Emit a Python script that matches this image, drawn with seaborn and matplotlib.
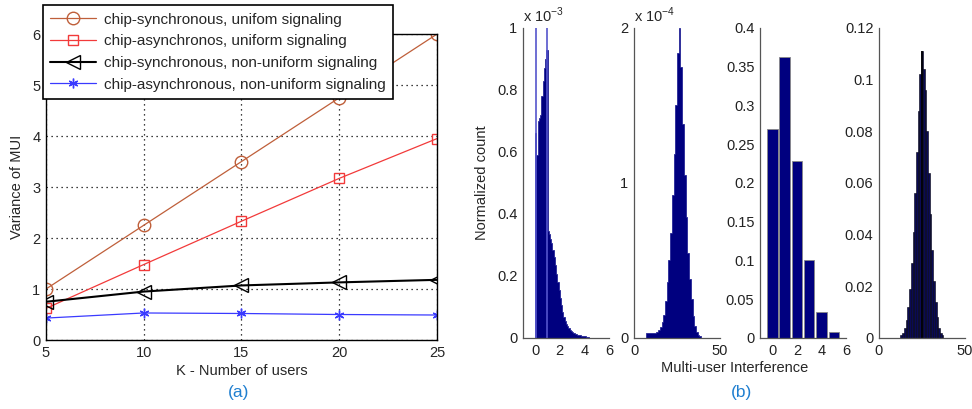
import numpy as np
import pandas as pd
import seaborn as sns
import matplotlib.pyplot as plt

# (a) variance of MUI vs number of users
users = [5, 10, 15, 20, 25]
sync_uniform = [1.0, 2.25, 3.5, 4.75, 6.0]
async_uniform = [0.62, 1.48, 2.33, 3.17, 3.95]
sync_nonuniform = [0.75, 0.95, 1.07, 1.13, 1.18]
async_nonuniform = [0.43, 0.53, 0.52, 0.50, 0.49]
series_labels = ['chip-synchronous, unifom signaling',
                 'chip-asynchronos, uniform signaling',
                 'chip-synchronous, non-uniform signaling',
                 'chip-asynchronous, non-uniform signaling']

# (b) histograms of multi-user interference
# panel 1 (x 1e-3), bins of width 0.1 starting at 0
h1_left = [round(0.1 * i, 1) for i in range(45)]
h1_heights = [0.66, 0.59, 0.70, 0.71, 0.72, 0.78, 0.83, 0.87, 0.90, 0.93,
              0.345, 0.335, 0.32, 0.305, 0.285, 0.26, 0.235, 0.205, 0.18, 0.155,
              0.128, 0.105, 0.085, 0.068, 0.056, 0.046, 0.038, 0.031, 0.026, 0.022,
              0.019, 0.016, 0.014, 0.012, 0.011, 0.010, 0.009, 0.008, 0.007, 0.006,
              0.005, 0.004, 0.003, 0.002, 0.001]
h1_spikes = [0.03, 0.95]
h1_spike_heights = [1.0, 1.0]
# panel 2 (x 1e-4), bins of width 1 starting at 7
h2_left = list(range(7, 39))
h2_heights = [0.03, 0.03, 0.03, 0.03, 0.03, 0.03, 0.04, 0.05, 0.07, 0.10,
              0.15, 0.24, 0.36, 0.50, 0.68, 0.92, 1.19, 1.50, 1.84, 2.0,
              1.75, 1.38, 1.05, 0.78, 0.55, 0.38, 0.25, 0.14, 0.08, 0.04,
              0.02, 0.01]
# panel 3, discrete values
h3_values = [0, 1, 2, 3, 4, 5]
h3_heights = [0.27, 0.362, 0.228, 0.101, 0.033, 0.008]
# panel 4, bins of width 1 centred on integers
h4_values = list(range(13, 38))
h4_heights = [0.001, 0.002, 0.004, 0.007, 0.012, 0.019, 0.029, 0.041, 0.056, 0.072,
              0.088, 0.102, 0.111, 0.104, 0.096, 0.080, 0.064, 0.048, 0.034, 0.022,
              0.014, 0.008, 0.004, 0.002, 0.001]

sns.set_theme(style='white')
plt.rcParams['font.family'] = ['Liberation Sans', 'DejaVu Sans']
plt.rcParams['font.size'] = 10
plt.rcParams['mathtext.fontset'] = 'custom'
plt.rcParams['mathtext.rm'] = 'Liberation Sans'
plt.rcParams['xtick.direction'] = 'in'
plt.rcParams['ytick.direction'] = 'in'

fig = plt.figure(figsize=(9.72, 4.09), dpi=100)
navy = '#00007f'

# ---- (a)
ax = fig.add_axes([0.0473, 0.1687, 0.4023, 0.748])
styles = [
    (sync_uniform, '#bf5f3a', 'o', 9, 0.9),
    (async_uniform, '#f23a3a', 's', 6.5, 0.9),
    (sync_nonuniform, 'black', '<', 9.5, 1.5),
    (async_nonuniform, '#3a3aff', (6, 2, 0), 7, 0.9),
]
for (vals, col, mk, ms, lw), lab in zip(styles, series_labels):
    sns.lineplot(x=users, y=vals, ax=ax, color=col, marker=mk, markersize=ms,
                 markerfacecolor='none', markeredgecolor=col, markeredgewidth=1.0,
                 linewidth=lw, label=lab)
ax.set_xlim(5, 25)
ax.set_ylim(0, 6)
ax.set_xticks([5, 10, 15, 20, 25])
ax.set_yticks(range(7))
ax.grid(True, linestyle=(0, (1, 3)), color='black', linewidth=0.9)
for s in ax.spines.values():
    s.set_color('black')
    s.set_linewidth(1.0)
ax.tick_params(length=4, width=0.8, labelsize=10.5, pad=4)
ax.set_xlabel('K - Number of users', fontsize=10.5, labelpad=3)
ax.set_ylabel('Variance of MUI', fontsize=10.5, labelpad=6)
leg = ax.legend(loc='upper left', bbox_to_anchor=(-0.008, 1.095), borderaxespad=0,
                fontsize=11, handlelength=3.0, fancybox=False, framealpha=1,
                edgecolor='black', borderpad=0.5, labelspacing=0.5, handletextpad=0.5)
leg.get_frame().set_linewidth(1.2)

# ---- (b)
def style_hist(a):
    for k in ['top', 'right']:
        a.spines[k].set_visible(False)
    for k in ['left', 'bottom']:
        a.spines[k].set_color('#555555')
        a.spines[k].set_linewidth(0.9)
    a.tick_params(length=3, width=0.8, labelsize=10.5, pad=4, colors='#222222')
    a.set_xlabel('')
    a.set_ylabel('')

ax1 = fig.add_axes([0.538, 0.1736, 0.0885, 0.758])
sns.histplot(x=[v + 0.05 for v in h1_left], weights=h1_heights,
             bins=[round(0.1 * i, 1) for i in range(46)], ax=ax1,
             color=navy, alpha=1, element='step', fill=True,
             edgecolor='#14148f', linewidth=0.5)
ax1.vlines(h1_spikes, 0, h1_spike_heights, color='#5555cc', linewidth=1.2)
ax1.set_xlim(-1, 6)
ax1.set_ylim(0, 1)
ax1.set_xticks([0, 2, 4, 6])
ax1.set_yticks([0, 0.2, 0.4, 0.6, 0.8, 1])
ax1.set_yticklabels(['0', '0.2', '0.4', '0.6', '0.8', '1'])
style_hist(ax1)
ax1.set_ylabel('Normalized count', fontsize=10.5, labelpad=6)
ax1.text(0, 1.01, r'x 10$^{-3}$', transform=ax1.transAxes, fontsize=10.5,
         ha='left', va='bottom')

ax2 = fig.add_axes([0.6523, 0.1736, 0.0885, 0.758])
sns.histplot(x=[v + 0.5 for v in h2_left], weights=h2_heights,
             bins=list(range(7, 40)), ax=ax2,
             color=navy, alpha=1, element='step', fill=True,
             edgecolor='#14148f', linewidth=0.5)
ax2.set_xlim(0, 50)
ax2.set_ylim(0, 2)
ax2.set_xticks([0, 50])
ax2.set_yticks([0, 1, 2])
style_hist(ax2)
ax2.text(0, 1.01, r'x 10$^{-4}$', transform=ax2.transAxes, fontsize=10.5,
         ha='left', va='bottom')

ax3 = fig.add_axes([0.7819, 0.1736, 0.0885, 0.758])
sns.histplot(x=h3_values, weights=h3_heights, discrete=True, shrink=0.85, ax=ax3,
             color=navy, alpha=1, edgecolor='#888888', linewidth=0.6)
ax3.set_xlim(-1, 6)
ax3.set_ylim(0, 0.4)
ax3.set_xticks([0, 2, 4, 6])
ax3.set_yticks([0, 0.05, 0.1, 0.15, 0.2, 0.25, 0.3, 0.35, 0.4])
ax3.set_yticklabels(['0', '0.05', '0.1', '0.15', '0.2', '0.25', '0.3', '0.35', '0.4'])
style_hist(ax3)

ax4 = fig.add_axes([0.9043, 0.1736, 0.0885, 0.758])
sns.histplot(x=h4_values, weights=h4_heights, discrete=True, ax=ax4,
             color='#0a0a55', alpha=1, edgecolor='#000010', linewidth=0.4)
ax4.vlines([25], 0, [max(h4_heights)], color='black', linewidth=1.2)
ax4.set_xlim(0, 50)
ax4.set_ylim(0, 0.12)
ax4.set_xticks([0, 50])
ax4.set_yticks([0, 0.02, 0.04, 0.06, 0.08, 0.1, 0.12])
ax4.set_yticklabels(['0', '0.02', '0.04', '0.06', '0.08', '0.1', '0.12'])
style_hist(ax4)

fig.text(0.756, 0.100, 'Multi-user Interference', fontsize=10.5, ha='center', va='center')
fig.text(0.245, 0.040, '(a)', fontsize=12.5, color='#1f7fd0', ha='center', va='center')
fig.text(0.763, 0.040, '(b)', fontsize=12.5, color='#1f7fd0', ha='center', va='center')

fig.savefig('out.png', dpi=100)
